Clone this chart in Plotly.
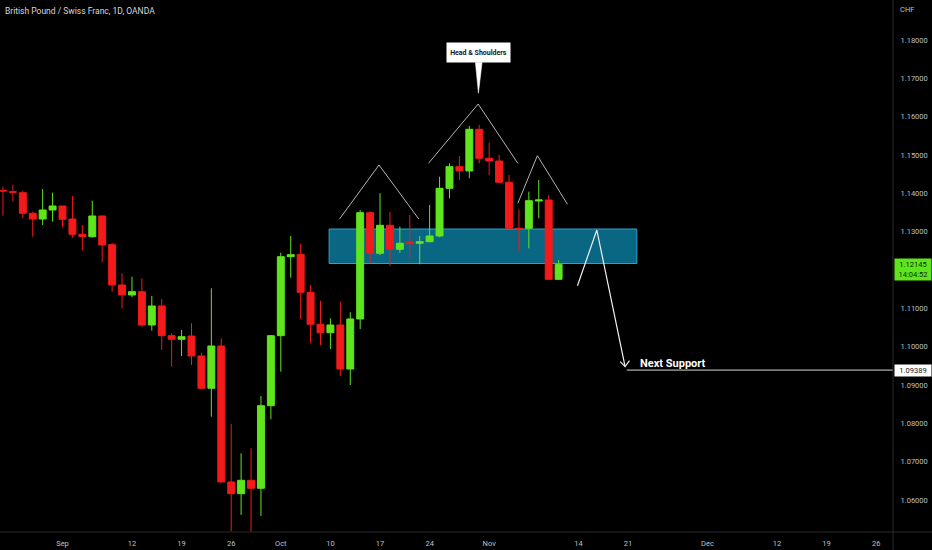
import plotly.graph_objects as go

# ---- Daily GBP/CHF candles (OANDA) ----
dates = [
    "2022-08-24", "2022-08-25", "2022-08-26", "2022-08-29", "2022-08-30", "2022-08-31",
    "2022-09-01", "2022-09-02", "2022-09-05", "2022-09-06", "2022-09-07", "2022-09-08",
    "2022-09-09", "2022-09-12", "2022-09-13", "2022-09-14", "2022-09-15", "2022-09-16",
    "2022-09-19", "2022-09-20", "2022-09-21", "2022-09-22", "2022-09-23", "2022-09-26",
    "2022-09-27", "2022-09-28", "2022-09-29", "2022-09-30", "2022-10-03", "2022-10-04",
    "2022-10-05", "2022-10-06", "2022-10-07", "2022-10-10", "2022-10-11", "2022-10-12",
    "2022-10-13", "2022-10-14", "2022-10-17", "2022-10-18", "2022-10-19", "2022-10-20",
    "2022-10-21", "2022-10-24", "2022-10-25", "2022-10-26", "2022-10-27", "2022-10-28",
    "2022-10-31", "2022-11-01", "2022-11-02", "2022-11-03", "2022-11-04", "2022-11-07",
    "2022-11-08", "2022-11-09", "2022-11-10",
]
opens = [
    1.14074, 1.14043, 1.14017, 1.13479, 1.13330, 1.13565,
    1.13670, 1.13330, 1.12931, 1.12869, 1.13409, 1.12660,
    1.11609, 1.11348, 1.11434, 1.10565, 1.11061, 1.10286,
    1.10192, 1.10278, 1.09757, 1.08914, 1.10017, 1.06470,
    1.06164, 1.06514, 1.06305, 1.08460, 1.10286, 1.12347,
    1.12410, 1.11418, 1.10584, 1.10364, 1.10565, 1.09417,
    1.10722, 1.13495, 1.12436, 1.13166, 1.12540, 1.12723,
    1.12697, 1.12738, 1.12887, 1.14131, 1.14695, 1.14583,
    1.15670, 1.14914, 1.14843, 1.14288, 1.13088, 1.13088,
    1.13800, 1.13826, 1.11757,
]
highs = [
    1.14173, 1.14225, 1.14069, 1.13521, 1.14113, 1.14017,
    1.13677, 1.13930, 1.13174, 1.13808, 1.13422, 1.12712,
    1.11914, 1.11825, 1.11783, 1.11322, 1.11243, 1.10349,
    1.10435, 1.10610, 1.09843, 1.11523, 1.10218, 1.07983,
    1.07218, 1.07349, 1.08713, 1.10304, 1.12451, 1.12887,
    1.12678, 1.11609, 1.11199, 1.10740, 1.11173, 1.10897,
    1.13565, 1.13539, 1.14001, 1.13521, 1.13130, 1.13435,
    1.12887, 1.13696, 1.14434, 1.14783, 1.14974, 1.15757,
    1.15783, 1.15321, 1.15000, 1.14478, 1.13583, 1.14043,
    1.14348, 1.13957, 1.12261,
]
lows = [
    1.13417, 1.13782, 1.13349, 1.12869, 1.13174, 1.13260,
    1.13114, 1.12843, 1.12503, 1.12843, 1.12201, 1.11434,
    1.11001, 1.11288, 1.10505, 1.10417, 1.09913, 1.09477,
    1.09757, 1.09522, 1.08896, 1.08173, 1.06457, 1.05191,
    1.05609, 1.05180, 1.05583, 1.08105, 1.09347, 1.11799,
    1.10722, 1.10088, 1.10043, 1.09939, 1.09235, 1.09000,
    1.10461, 1.12175, 1.12391, 1.12104, 1.12451, 1.12279,
    1.12149, 1.12731, 1.12853, 1.13870, 1.14348, 1.14392,
    1.14783, 1.14478, 1.14270, 1.13070, 1.12477, 1.12566,
    1.13349, 1.11744, 1.11739,
]
closes = [
    1.14061, 1.14027, 1.13479, 1.13330, 1.13565, 1.13670,
    1.13323, 1.12931, 1.12869, 1.13409, 1.12652, 1.11609,
    1.11348, 1.11434, 1.10565, 1.11061, 1.10286, 1.10192,
    1.10260, 1.09757, 1.08914, 1.10017, 1.06470, 1.06164,
    1.06514, 1.06305, 1.08460, 1.10286, 1.12347, 1.12399,
    1.11418, 1.10584, 1.10364, 1.10565, 1.09417, 1.10722,
    1.13495, 1.12436, 1.13166, 1.12540, 1.12697, 1.12686,
    1.12738, 1.12887, 1.14131, 1.14695, 1.14583, 1.15670,
    1.14914, 1.14843, 1.14288, 1.13088, 1.13070, 1.13808,
    1.13826, 1.11757, 1.12145,
]

# ---- Axis ticks ----
date_tick_vals = [
    "2022-09-01", "2022-09-12", "2022-09-19", "2022-09-26", "2022-10-03", "2022-10-10",
    "2022-10-17", "2022-10-24", "2022-11-01", "2022-11-14", "2022-11-21", "2022-12-01",
    "2022-12-12", "2022-12-19", "2022-12-26",
]
date_tick_text = ["Sep", "12", "19", "26", "Oct", "10", "17", "24", "Nov", "14", "21",
                  "Dec", "12", "19", "26"]
# 1.12 sits under the last-price tag, so the scale leaves it out
price_ticks = [1.06, 1.07, 1.08, 1.09, 1.10, 1.11, 1.13, 1.14, 1.15, 1.16, 1.17, 1.18]
x_window = ["2022-08-23 16:48", "2022-12-27 16:48"]
y_window = [1.05165, 1.19043]

# ---- Chart drawings (time, price anchors) ----
zone_time = ["2022-10-07 20:53", "2022-11-21 21:07"]
zone_price = [1.12169, 1.13069]

left_shoulder_t = ["2022-10-10 21:36", "2022-10-14 21:36", "2022-10-20 21:50"]
left_shoulder_p = [1.13323, 1.14739, 1.13330]
head_t = ["2022-10-21 21:07", "2022-10-28 21:21", "2022-11-03 21:21"]
head_p = [1.14783, 1.16330, 1.14783]
right_shoulder_t = ["2022-11-03 21:21", "2022-11-07 20:38", "2022-11-10 21:21"]
right_shoulder_p = [1.13740, 1.14982, 1.13714]

retest_t = ["2022-11-11 21:36", "2022-11-15 20:24", "2022-11-18 16:48"]
retest_p = [1.11590, 1.13043, 1.09477]
arrowhead_t = ["2022-11-18 04:48", "2022-11-18 16:48", "2022-11-21 03:22"]
arrowhead_p = [1.09608, 1.09477, 1.09634]

support_level = 1.09389
support_start = "2022-11-18 20:53"
support_text_t = "2022-11-21 23:02"
support_text_p = 1.09548

callout_t = "2022-10-28 21:21"
callout_p = 1.17674
pointer_t = ["2022-10-28 14:38", "2022-10-28 22:05", "2022-10-31 06:58"]
pointer_p = [1.17418, 1.16610, 1.17418]

UP = "#5fe51e"
DOWN = "#f21a1a"
FONT = "Roboto, sans-serif"
AXIS_TEXT = "#bcc0c9"

fig = go.Figure()

fig.add_trace(go.Candlestick(
    x=dates, open=opens, high=highs, low=lows, close=closes,
    increasing=dict(line=dict(color=UP, width=1), fillcolor=UP),
    decreasing=dict(line=dict(color=DOWN, width=1), fillcolor=DOWN),
    whiskerwidth=0, hoverinfo="skip", showlegend=False,
))

# head & shoulders outline
for t, p in [(left_shoulder_t, left_shoulder_p), (head_t, head_p),
             (right_shoulder_t, right_shoulder_p)]:
    fig.add_trace(go.Scatter(x=t, y=p, mode="lines",
                             line=dict(color="#b4b4b4", width=1),
                             hoverinfo="skip", showlegend=False))

# projected retest and drop
fig.add_trace(go.Scatter(x=retest_t, y=retest_p, mode="lines",
                         line=dict(color="#f0f0f0", width=1.2),
                         hoverinfo="skip", showlegend=False))
fig.add_trace(go.Scatter(x=arrowhead_t, y=arrowhead_p, mode="lines",
                         line=dict(color="#f0f0f0", width=1.2),
                         hoverinfo="skip", showlegend=False))

# callout pointer
fig.add_trace(go.Scatter(x=pointer_t, y=pointer_p, mode="lines", fill="toself",
                         fillcolor="white", line=dict(color="white", width=0.5),
                         hoverinfo="skip", showlegend=False))

shapes = [
    dict(type="rect", xref="x", yref="y", x0=zone_time[0], x1=zone_time[1],
         y0=zone_price[0], y1=zone_price[1], layer="below",
         fillcolor="#096784", line=dict(color="#29a6cc", width=1)),
    dict(type="line", xref="x", yref="y", x0=support_start, x1="2023-02-28",
         y0=support_level, y1=support_level, line=dict(color="#d8d8d8", width=1)),
    # price-scale separator and time-scale separator
    dict(type="line", xref="paper", yref="paper", x0=1, x1=1, y0=-0.05, y1=1,
         line=dict(color="#2b2b2b", width=1)),
    dict(type="line", xref="paper", yref="paper", x0=0, x1=1.05, y0=0, y1=0,
         line=dict(color="#2b2b2b", width=1)),
]

annotations = [
    dict(xref="paper", yref="paper", x=0, y=1, xanchor="left", yanchor="top",
         xshift=3, yshift=-4, showarrow=False,
         text="British Pound / Swiss Franc, 1D, OANDA",
         font=dict(family=FONT, size=8.5, color="#d6d8de")),
    dict(xref="paper", yref="paper", x=1, y=1, xanchor="left", yanchor="top",
         xshift=5, yshift=-3, showarrow=False, text="CHF",
         font=dict(family=FONT, size=7.5, color=AXIS_TEXT)),
    dict(xref="x", yref="y", x=callout_t, y=callout_p, showarrow=False,
         text="<b>Head & Shoulders</b>", bgcolor="white", width=60, height=16,
         borderpad=1.5, font=dict(family=FONT, size=7, color="#131722")),
    dict(xref="x", yref="y", x=support_text_t, y=support_text_p, xanchor="left",
         yanchor="middle", showarrow=False, text="<b>Next Support</b>",
         font=dict(family=FONT, size=11, color="white")),
    dict(xref="paper", yref="y", x=1, y=closes[-1], xanchor="left", yanchor="top",
         xshift=1, yshift=6, showarrow=False,
         text=f"{closes[-1]:.5f}<br>14:04:52", bgcolor=UP, width=34, borderpad=1,
         font=dict(family=FONT, size=7.5, color="#0b2a05")),
    dict(xref="paper", yref="y", x=1, y=support_level, xanchor="left", yanchor="middle",
         xshift=1, showarrow=False, text=f"{support_level:.5f}", bgcolor="white",
         width=34, borderpad=1, font=dict(family=FONT, size=7.5, color="#131722")),
]

fig.update_layout(
    width=932, height=550,
    margin=dict(l=0, r=39, t=0, b=18),
    paper_bgcolor="black", plot_bgcolor="black",
    showlegend=False, boxgap=0.3, boxgroupgap=0,
    shapes=shapes, annotations=annotations,
    xaxis=dict(
        type="date", range=x_window,
        rangebreaks=[dict(bounds=["sat", "mon"])],
        rangeslider=dict(visible=False),
        tickvals=date_tick_vals, ticktext=date_tick_text,
        showgrid=False, zeroline=False, showline=False,
        ticks="outside", ticklen=4, tickcolor="rgba(0,0,0,0)",
        tickfont=dict(family=FONT, size=7.5, color=AXIS_TEXT),
    ),
    yaxis=dict(
        side="right", range=y_window, tickvals=price_ticks, tickformat=".5f",
        showgrid=False, zeroline=False, showline=False,
        ticks="outside", ticklen=5, tickcolor="rgba(0,0,0,0)",
        tickfont=dict(family=FONT, size=7.5, color=AXIS_TEXT),
    ),
)

fig.write_html("out.html")
